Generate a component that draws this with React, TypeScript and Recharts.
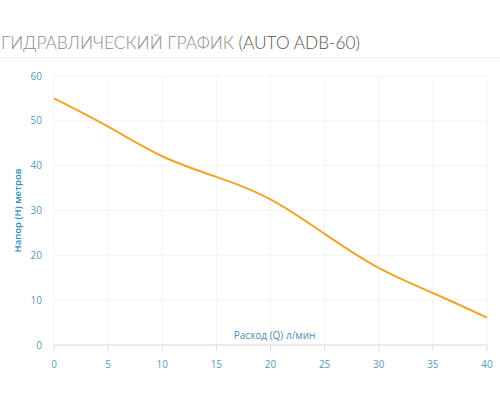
import React from "react";
import { LineChart, Line, XAxis, YAxis, CartesianGrid } from "recharts";

const flow = [0, 5, 10, 15, 20, 25, 30, 35, 40];
const head = [55, 48.7, 42.1, 37.5, 32.5, 24.8, 17.2, 11.6, 6.1];
const xTicks = [0, 5, 10, 15, 20, 25, 30, 35, 40];
const yTicks = [0, 10, 20, 30, 40, 50, 60];

const data = flow.map((q, i) => ({ q, h: head[i] }));

const tickStyle = { fill: "#5a9ab5", fontSize: 10, fontFamily: "Open Sans" };

export default function App() {
  return (
    <div style={{ position: "absolute", left: 0, top: 0, width: 500, height: 400, background: "#fff" }}>
      <div
        style={{
          position: "absolute",
          left: 1,
          top: 32,
          fontFamily: "Lato",
          fontWeight: 300,
          fontSize: 17.3,
          color: "#8c8c8c",
          whiteSpace: "nowrap",
        }}
      >
        ГИДРАВЛИЧЕСКИЙ ГРАФИК <span style={{ color: "#555" }}>(AUTO ADB-60)</span>
      </div>
      <div style={{ position: "absolute", left: 0, top: 57, width: 500, height: 1, background: "#f2f2f2" }} />
      <div style={{ position: "absolute", left: 0, top: 0 }}>
        <LineChart width={500} height={400} data={data} margin={{ top: 76, right: 13, bottom: 25, left: 0 }}>
          <CartesianGrid stroke="#f3f3f3" />
          <XAxis
            dataKey="q"
            type="number"
            domain={[0, 40]}
            ticks={xTicks}
            height={30}
            tick={tickStyle}
            tickMargin={10}
            stroke="#dcdcdc"
            label={{
              value: "Расход (Q) л/мин",
              position: "top",
              offset: 6,
              dx: 4,
              style: { fill: "#4a8eab", fontSize: 10, fontFamily: "Open Sans" },
            }}
          />
          <YAxis
            type="number"
            domain={[0, 60]}
            ticks={yTicks}
            width={54}
            axisLine={false}
            tickLine={false}
            tickMargin={6}
            tick={tickStyle}
            label={{
              value: "Напор (Н) метров",
              angle: -90,
              position: "insideLeft",
              offset: 18,
              style: { textAnchor: "middle", fill: "#2b8db3", fontSize: 9.5, fontWeight: 600, fontFamily: "Open Sans" },
            }}
          />
          <Line
            type="natural"
            dataKey="h"
            stroke="#f0a52a"
            strokeWidth={2}
            dot={false}
            isAnimationActive={false}
          />
        </LineChart>
      </div>
    </div>
  );
}
